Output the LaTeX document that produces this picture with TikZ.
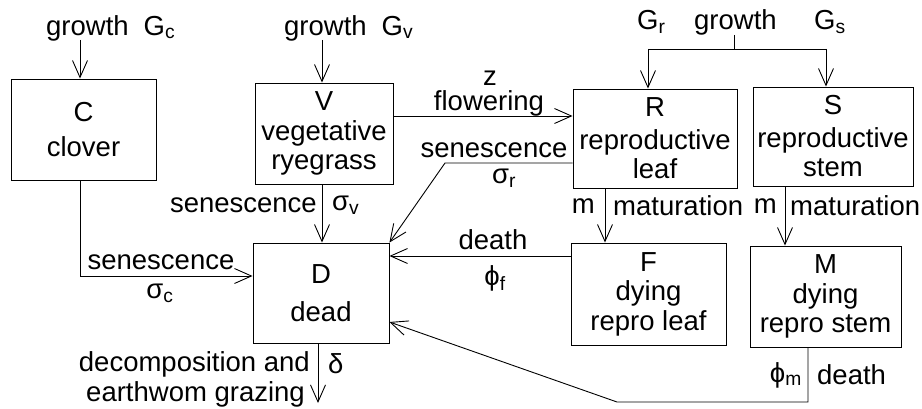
\documentclass[tikz,border=0pt]{standalone}
\usepackage{fontspec}
\setmainfont{Liberation Sans}
\usetikzlibrary{arrows.meta}
\begin{document}
\begin{tikzpicture}[x=1pt,y=-1pt,
  every node/.style={font=\fontsize{27.5}{29.5}\selectfont, inner sep=0pt},
  box/.style={draw, line width=0.9pt, align=center},
  flow/.style={draw, line width=0.9pt, -{Straight Barb[length=17pt,width=15pt,line width=0.9pt]}},
  plain/.style={draw, line width=0.9pt}]
\useasboundingbox (0,0) rectangle (922,409);
% boxes
\node[box, minimum width=145pt, minimum height=101pt] (C) at (83.5,129.5) {C\\[6pt]clover};
\node[box, minimum width=138pt, minimum height=101pt] (V) at (324,133.5) {V\\vegetative\\ryegrass};
\node[box, minimum width=164pt, minimum height=99pt] (R) at (655,138.5) {R\\[3pt]reproductive\\leaf};
\node[box, minimum width=160pt, minimum height=99pt] (S) at (833,136.5) {S\\[3pt]reproductive\\stem};
\node[box, minimum width=136pt, minimum height=100pt] (D) at (321,293) {D\\[9pt]dead};
\node[box, minimum width=155pt, minimum height=102pt] (F) at (648.5,294) {F\\dying\\repro leaf};
\node[box, minimum width=151pt, minimum height=101pt] (M) at (825.5,296.5) {M\\dying\\repro stem};
% free ends and bends
\coordinate (gcs) at (80,40);
\coordinate (gvs) at (322,40);
\coordinate (grs) at (734,35);
\coordinate (rin) at (648,49);
\coordinate (sin) at (826,49);
\coordinate (vr) at (0,116);
\coordinate (rs) at (0,163);
\coordinate (rk) at (445,163);
\coordinate (cd) at (80,276);
\coordinate (dout) at (318,403);
\coordinate (rf) at (605,0);
\coordinate (sm) at (785,0);
\coordinate (fd) at (0,256);
\coordinate (mb) at (808,402);
\coordinate (mk) at (617,402);
\coordinate (md) at (0,322);
% connectors
\draw[flow] (gcs) -- (gcs |- C.north);
\draw[flow] (gvs) -- (gvs |- V.north);
\draw[plain] (grs) -- (grs |- rin);
\draw[plain] (rin) -- (sin);
\draw[flow] (rin) -- (rin |- R.north);
\draw[flow] (sin) -- (sin |- S.north);
\draw[flow] (V.east |- vr) -- (R.west |- vr);
\draw[flow] (R.west |- rs) -- (rk) -- (D.north east);
\draw[flow] (V.south -| gvs) -- (D.north -| gvs);
\draw[flow] (C.south -| cd) -- (cd) -- (D.west |- cd);
\draw[flow] (D.south -| dout) -- (dout);
\draw[flow] (R.south -| rf) -- (F.north -| rf);
\draw[flow] (S.south -| sm) -- (M.north -| sm);
\draw[flow] (F.west |- fd) -- (D.east |- fd);
\draw[flow] (M.south -| mb) -- (mb) -- (mk) -- (D.east |- md);
% labels
\node[anchor=west] (lgc) at (46,28) {growth\hspace{15pt}G\textsubscript{c}};
\node[anchor=west] (lgv) at (284,28) {growth\hspace{15pt}G\textsubscript{v}};
\node[anchor=west] (lgr) at (637,22) {G\textsubscript{r}};
\node[anchor=west] (lgrowth) at (694,22) {growth};
\node[anchor=west] (lgs) at (814,22) {G\textsubscript{s}};
\node[text depth=0pt] (lz) at (490,78) {z};
\node (lflow) at (489,103) {flowering};
\node (lsenr) at (494,150) {senescence};
\node (lsigr) at (504,178) {σ\textsubscript{r}};
\node[anchor=east] (lsenv) at (317,205) {senescence};
\node[anchor=west] (lsigv) at (332,205) {σ\textsubscript{v}};
\node (lsenc) at (161,262) {senescence};
\node (lsigc) at (160,293) {σ\textsubscript{c}};
\node[anchor=east] (ldec) at (310,364) {decomposition and};
\node[anchor=east] (lear) at (305,394) {earthwom grazing};
\node[anchor=west] (ldel) at (328,364) {δ};
\node[anchor=east] (lmr) at (595,206) {m};
\node[anchor=west] (lmatr) at (613,206) {maturation};
\node[anchor=east] (lms) at (777,206) {m};
\node[anchor=west] (lmats) at (790,206) {maturation};
\node (ldf) at (493,240) {death};
\node (lphf) at (495,278) {ϕ\textsubscript{f}};
\node[anchor=east] (lphm) at (802,375) {ϕ\textsubscript{m}};
\node[anchor=west] (ldm) at (817,375) {death};
\end{tikzpicture}
\end{document}
